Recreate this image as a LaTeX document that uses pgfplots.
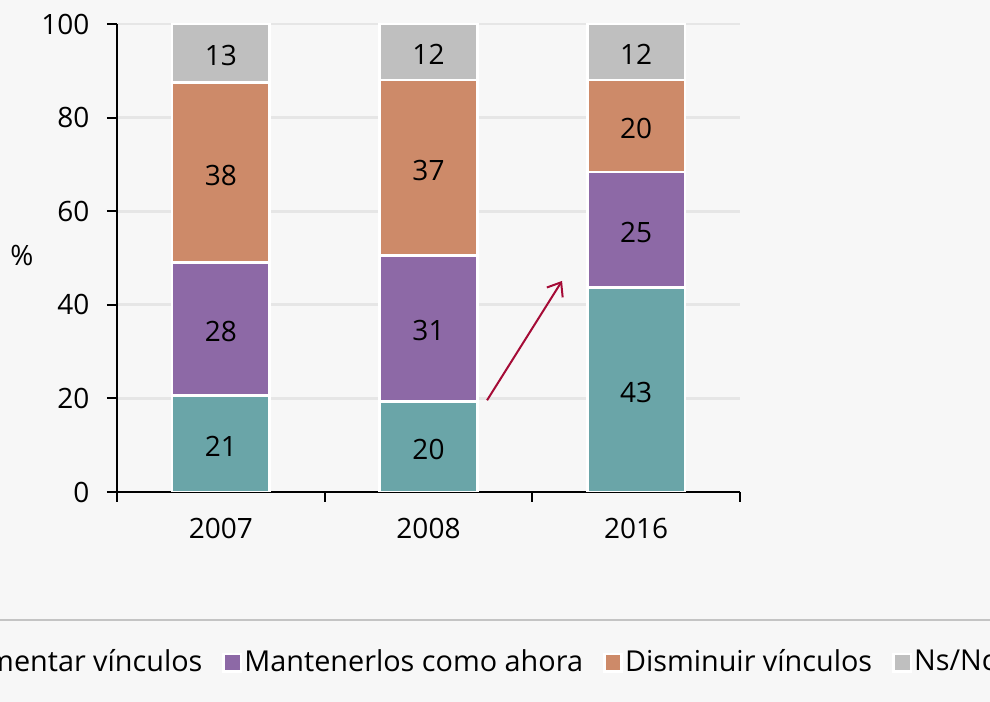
\documentclass[border=0pt]{standalone}
\usepackage{fontspec}
\setmainfont{Open Sans}
\usepackage{pgfplots}
\pgfplotsset{compat=1.18}
\usetikzlibrary{arrows.meta}

\definecolor{bgc}{HTML}{F7F7F7}
\definecolor{cteal}{HTML}{6AA5A8}
\definecolor{cpurp}{HTML}{8D69A6}
\definecolor{corng}{HTML}{CD8A69}
\definecolor{cgray}{HTML}{BFBFBF}
\definecolor{cgrid}{HTML}{E6E6E6}
\definecolor{legline}{HTML}{C4C4C4}
\definecolor{carrow}{HTML}{A50B36}

\begin{document}
\fontsize{21}{25}\selectfont
% 1 unit = 1 px of the 990x702 reference, origin at the axis corner
\begin{tikzpicture}[x=0.75pt,y=0.75pt]
\useasboundingbox (-117,-210) rectangle (873,492);
\clip (-117,-210) rectangle (873,492);
\fill[bgc] (-117,-210) rectangle (873,492);
\draw[legline, line width=1.5pt] (-117,-128) -- (873,-128);
\begin{axis}[
  at={(0,0)}, anchor=south west,
  scale only axis,
  width=467.25pt, height=351pt,
  ybar stacked,
  bar width=0.47,
  xmin=-0.5, xmax=2.5,
  ymin=0, ymax=100,
  xtick={0,1,2},
  xticklabels={2007,2008,2016},
  minor xtick={-0.5,0.5,1.5,2.5},
  ytick={0,20,40,60,80,100},
  axis x line*=bottom,
  axis y line*=left,
  axis line style={black, line width=1.6pt},
  tick align=outside,
  major tick length=7.5pt,
  minor tick length=7.5pt,
  major x tick style={draw=none},
  minor x tick style={black, line width=1.6pt},
  ytick style={black, line width=1.6pt},
  yticklabel style={xshift=-6pt},
  xticklabel style={yshift=-5pt},
  ymajorgrids,
  major grid style={cgrid, line width=2pt},
  /pgf/number format/assume math mode=true,
  ylabel={\%},
  every axis y label/.style={at={(axis description cs:-0.1525,0.506)}, anchor=center},
  point meta=explicit symbolic,
  nodes near coords,
  every node near coord/.append style={anchor=center, black, yshift=-2pt},
  legend columns=4,
  legend image code/.code={\fill[#1] (0pt,-6.5pt) rectangle (13pt,6.5pt);},
  legend style={at={(axis description cs:-0.3017,-0.365)}, anchor=west,
    draw=none, fill=none, inner sep=0pt,
    font=\fontsize{21.6}{26}\selectfont,
    nodes={inner sep=1.5pt},
    /tikz/every even column/.append style={column sep=13.5pt}},
]
\addplot[fill=cteal, draw=white, line width=2pt] coordinates {(0,20.6) [21] (1,19.4) [20] (2,43.7) [43]};
\addplot[fill=cpurp, draw=white, line width=2pt] coordinates {(0,28.4) [28] (1,31.2) [31] (2,24.7) [25]};
\addplot[fill=corng, draw=white, line width=2pt] coordinates {(0,38.5) [38] (1,37.4) [37] (2,19.6) [20]};
\addplot[fill=cgray, draw=white, line width=2pt] coordinates {(0,12.5) [13] (1,12.0) [12] (2,12.0) [12]};
\legend{Aumentar vínculos, Mantenerlos como ahora, Disminuir vínculos, Ns/Nc}
\draw[black, line width=1.6pt] (axis cs:-0.5,0) -- (axis cs:2.5,0);
\draw[carrow, line width=1.5pt, -{Straight Barb[length=9pt,width=14pt]}]
  (axis cs:1.282,19.6) -- (axis cs:1.643,45.1);
\end{axis}
\end{tikzpicture}
\end{document}
